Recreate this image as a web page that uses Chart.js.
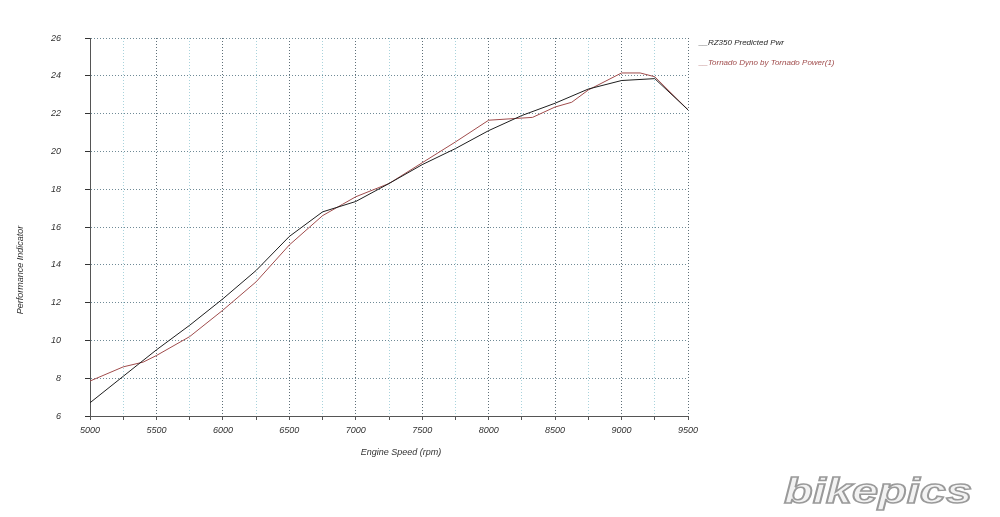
<!DOCTYPE html>
<html>
<head>
<meta charset="utf-8">
<script src="https://cdn.jsdelivr.net/npm/chart.js@4.4.1/dist/chart.umd.min.js"></script>
<style>
    html, body { margin: 0; padding: 0; background: #fff; }
    #wrap { width: 1000px; height: 517px; }
</style>
</head>
<body>
<div id="wrap"><canvas id="dyno" width="1000" height="517"></canvas></div>
<script>
// dati
const rpmPredetto = [5000, 5250, 5500, 5750, 6000, 6250, 6500, 6750, 7000, 7250, 7500, 7750, 8000, 8250, 8500, 8750, 9000, 9250, 9500];
const valoriPredetti = [6.7, 8.1, 9.5, 10.8, 12.2, 13.7, 15.5, 16.8, 17.35, 18.3, 19.3, 20.15, 21.1, 21.9, 22.55, 23.3, 23.75, 23.85, 22.2];

const rpmDyno = [5000, 5250, 5400, 5500, 5750, 6000, 6250, 6500, 6750, 6900, 7000, 7250, 7500, 7750, 8000, 8330, 8500, 8625, 8750, 9000, 9140, 9250, 9500];
const valoriDyno = [7.85, 8.6, 8.85, 9.2, 10.2, 11.6, 13.1, 15.05, 16.6, 17.2, 17.6, 18.3, 19.4, 20.5, 21.65, 21.8, 22.35, 22.6, 23.25, 24.15, 24.15, 23.95, 22.2];

const etichette = ['__RZ350 Predicted Pwr', '__Tornado Dyno by Tornado Power(1)'];
const coloriSerie = ['#1e1e1e', '#a04c4c'];

const titoloX = 'Engine Speed (rpm)';
const titoloY = 'Performance Indicator';

const fontBase = '"Liberation Sans", Arial, sans-serif';

function punti(xs, ys) {
    return xs.map((x, i) => ({ x: x, y: ys[i] }));
}

// legenda, titoli e marchio disegnati a mano
const extraPlugin = {
    id: 'extra',
    afterDraw(chart) {
        const ctx = chart.ctx;
        ctx.save();
        ctx.font = 'italic 8px ' + fontBase;
        ctx.textBaseline = 'middle';
        etichette.forEach((t, i) => {
            ctx.fillStyle = coloriSerie[i];
            ctx.fillText(t, 699, 43 + i * 20);
        });

        // titoli assi
        ctx.fillStyle = '#333';
        ctx.font = 'italic 9px ' + fontBase;
        ctx.textAlign = 'center';
        ctx.fillText(titoloX, 401, 452);
        ctx.save();
        ctx.translate(20, 270);
        ctx.rotate(-Math.PI / 2);
        ctx.fillText(titoloY, 0, 0);
        ctx.restore();

        // watermark
        ctx.textAlign = 'left';
        ctx.textBaseline = 'alphabetic';
        ctx.translate(784, 503);
        ctx.scale(1.27, 0.95);
        ctx.font = 'italic bold 37px ' + fontBase;
        ctx.lineWidth = 1.6;
        ctx.strokeStyle = '#9a9a9a';
        ctx.fillStyle = '#f2f2f2';
        ctx.fillText('bikepics', 0, 0);
        ctx.strokeText('bikepics', 0, 0);
        ctx.restore();
    }
};

new Chart(document.getElementById('dyno').getContext('2d'), {
    type: 'line',
    data: {
        datasets: [{
            label: etichette[0],
            data: punti(rpmPredetto, valoriPredetti),
            borderColor: coloriSerie[0],
            borderWidth: 1,
            pointRadius: 0,
            tension: 0
        }, {
            label: etichette[1],
            data: punti(rpmDyno, valoriDyno),
            borderColor: coloriSerie[1],
            borderWidth: 1,
            pointRadius: 0,
            tension: 0
        }]
    },
    options: {
        responsive: false,
        animation: false,
        layout: { padding: { left: 0, right: 312, top: 38, bottom: 0 } },
        plugins: {
            legend: { display: false },
            tooltip: { enabled: false }
        },
        scales: {
            x: {
                type: 'linear',
                min: 5000,
                max: 9500,
                afterFit: s => { s.height = 101; },
                ticks: {
                    stepSize: 250,
                    autoSkip: false,
                    maxRotation: 0,
                    color: '#333',
                    padding: 5,
                    font: { family: fontBase, size: 9, style: 'italic' },
                    callback: v => (v % 500 === 0 ? String(v) : '')
                },
                grid: {
                    color: c => (c.tick && c.tick.value % 500 === 0 ? '#5f6f78' : '#a9d3dc'),
                    tickColor: '#555',
                    tickLength: 4,
                    lineWidth: 1
                },
                border: { display: true, color: '#555', dash: [1, 2] }
            },
            y: {
                min: 6,
                max: 26,
                afterFit: s => { s.width = 90; },
                ticks: {
                    stepSize: 2,
                    color: '#333',
                    padding: 24,
                    font: { family: fontBase, size: 9, style: 'italic' }
                },
                grid: {
                    color: '#6f8a96',
                    tickColor: '#333',
                    tickLength: 5
                },
                border: { display: true, color: '#555', dash: [1, 2] }
            }
        }
    },
    plugins: [extraPlugin]
});
</script>
</body>
</html>
